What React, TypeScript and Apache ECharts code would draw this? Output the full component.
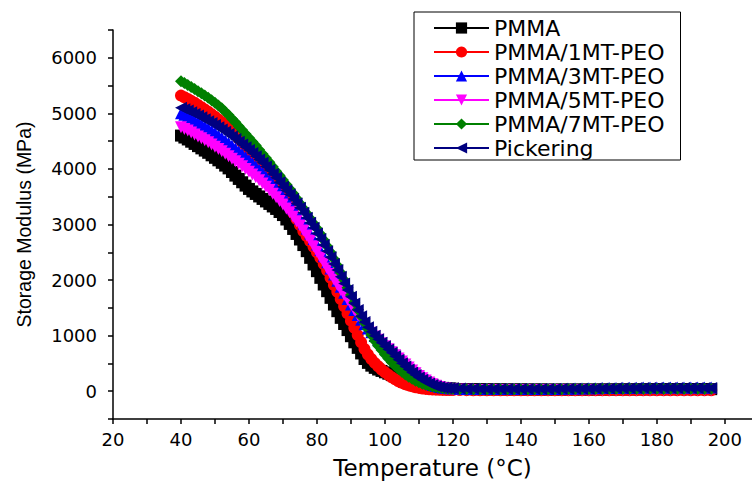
import React, { useEffect, useRef } from "react";
import * as echarts from "echarts";

// Temperature (°C) of each reading
const TEMPS = [
  40, 41, 42, 43, 44, 45, 46, 47, 48, 49,
  50, 51, 52, 53, 54, 55, 56, 57, 58, 59,
  60, 61, 62, 63, 64, 65, 66, 67, 68, 69, 70,
  71, 72, 73, 74, 75, 76, 77, 78, 79, 80,
  81, 82, 83, 84, 85, 86, 87, 88, 89, 90,
  91, 92, 93, 94, 95, 96, 97, 98, 99, 100,
  101, 102, 103, 104, 105, 106, 107, 108, 109, 110,
  111, 112, 113, 114, 115, 116, 117, 118, 119,
  120, 122, 124, 126, 128, 130, 132, 134, 136, 138,
  140, 142, 144, 146, 148, 150, 152, 154, 156, 158,
  160, 162, 164, 166, 168, 170, 172, 174, 176, 178,
  180, 182, 184, 186, 188, 190, 192, 194, 196,
];

// Storage modulus (MPa)
const PMMA = [
  4600, 4565, 4530, 4490, 4450, 4410, 4370, 4330, 4290, 4245,
  4200, 4155, 4110, 4060, 4010, 3945, 3880, 3820, 3760, 3700,
  3640, 3595, 3550, 3505, 3460, 3415, 3370, 3325, 3280, 3225, 3170,
  3090, 3010, 2920, 2830, 2730, 2630, 2520, 2400, 2280, 2160,
  2040, 1920, 1800, 1680, 1560, 1440, 1320, 1210, 1100, 990,
  880, 780, 680, 580, 510, 460, 420, 390, 365, 340,
  315, 290, 270, 250, 230, 210, 190, 170, 150, 135,
  120, 105, 92, 80, 72, 65, 60, 55, 50,
  45, 40, 38, 36, 35, 34, 33, 33, 32, 32,
  32, 31, 31, 31, 30, 30, 30, 30, 30, 30,
  30, 30, 31, 31, 32, 32, 33, 33, 34, 34,
  35, 35, 35, 36, 36, 36, 37, 37, 37,
];
const PMMA_1MT = [
  5320, 5290, 5260, 5225, 5190, 5150, 5110, 5070, 5030, 4985,
  4940, 4890, 4840, 4785, 4730, 4670, 4610, 4545, 4480, 4415,
  4350, 4280, 4210, 4135, 4060, 3980, 3900, 3810, 3720, 3620, 3520,
  3420, 3320, 3210, 3100, 2990, 2880, 2790, 2700, 2600, 2500,
  2400, 2290, 2170, 2040, 1910, 1790, 1660, 1530, 1400, 1270,
  1140, 1010, 880, 760, 660, 580, 510, 450, 390, 340,
  295, 250, 215, 180, 150, 125, 105, 88, 72, 60,
  50, 42, 36, 32, 28, 26, 24, 23, 22,
  21, 20, 19, 18, 18, 18, 18, 18, 18, 18,
  18, 18, 18, 18, 18, 18, 18, 18, 18, 18,
  18, 18, 18, 18, 18, 18, 18, 18, 18, 18,
  18, 18, 18, 18, 18, 18, 18, 18, 18,
];
const PMMA_3MT = [
  5000, 4975, 4950, 4915, 4880, 4845, 4810, 4770, 4730, 4690,
  4650, 4605, 4560, 4515, 4470, 4420, 4370, 4320, 4270, 4215,
  4160, 4105, 4050, 3990, 3930, 3865, 3800, 3730, 3660, 3585, 3510,
  3440, 3360, 3280, 3200, 3110, 3020, 2930, 2840, 2740, 2640,
  2540, 2430, 2320, 2210, 2100, 1990, 1880, 1770, 1660, 1560,
  1460, 1370, 1285, 1205, 1130, 1060, 995, 930, 870, 810,
  750, 690, 630, 570, 512, 455, 400, 348, 300, 255,
  213, 175, 142, 114, 92, 76, 66, 59, 55,
  52, 45, 42, 40, 40, 40, 40, 40, 40, 40,
  40, 40, 40, 40, 41, 42, 44, 46, 48, 50,
  52, 54, 56, 58, 60, 62, 63, 64, 65, 65,
  66, 66, 66, 67, 67, 67, 67, 67, 67,
];
const PMMA_5MT = [
  4750, 4720, 4690, 4655, 4620, 4585, 4550, 4515, 4480, 4440,
  4400, 4360, 4320, 4275, 4230, 4185, 4140, 4095, 4050, 4000,
  3950, 3900, 3850, 3795, 3740, 3680, 3620, 3555, 3490, 3425, 3360,
  3290, 3220, 3140, 3060, 2980, 2890, 2800, 2710, 2610, 2510,
  2410, 2310, 2210, 2110, 2010, 1910, 1820, 1730, 1645, 1560,
  1460, 1370, 1280, 1200, 1120, 1050, 985, 925, 865, 810,
  755, 700, 645, 590, 535, 480, 425, 372, 322, 275,
  232, 192, 156, 125, 98, 76, 60, 48, 38,
  30, 27, 25, 24, 23, 23, 22, 22, 22, 22,
  22, 22, 22, 22, 22, 22, 22, 22, 22, 22,
  22, 22, 22, 22, 22, 22, 22, 22, 22, 22,
  22, 22, 22, 22, 22, 22, 22, 22, 22,
];
const PMMA_7MT = [
  5580, 5545, 5510, 5475, 5440, 5400, 5360, 5320, 5280, 5235,
  5190, 5140, 5090, 5030, 4970, 4905, 4840, 4770, 4700, 4630,
  4560, 4490, 4420, 4345, 4270, 4195, 4120, 4040, 3960, 3880, 3800,
  3720, 3640, 3560, 3470, 3380, 3290, 3200, 3110, 3020, 2930,
  2830, 2720, 2610, 2500, 2380, 2260, 2130, 2000, 1860, 1730,
  1600, 1470, 1350, 1230, 1120, 1010, 910, 820, 740, 660,
  590, 520, 460, 400, 350, 300, 260, 225, 190, 160,
  135, 115, 97, 83, 71, 61, 53, 47, 43,
  40, 36, 34, 33, 32, 32, 32, 32, 32, 32,
  32, 32, 32, 32, 32, 33, 33, 34, 35, 36,
  37, 38, 39, 40, 40, 40, 40, 40, 40, 40,
  40, 40, 40, 40, 40, 40, 40, 40, 40,
];
const PICKERING = [
  5100, 5075, 5050, 5020, 4990, 4960, 4930, 4895, 4860, 4825,
  4790, 4750, 4710, 4670, 4630, 4585, 4540, 4490, 4440, 4390,
  4340, 4285, 4230, 4170, 4110, 4045, 3980, 3910, 3840, 3760, 3680,
  3610, 3540, 3460, 3380, 3300, 3210, 3120, 3030, 2940, 2840,
  2740, 2630, 2520, 2410, 2290, 2180, 2060, 1940, 1820, 1700,
  1580, 1460, 1350, 1245, 1150, 1070, 1000, 935, 870, 810,
  750, 690, 630, 565, 505, 445, 390, 338, 290, 246,
  206, 170, 140, 112, 90, 74, 64, 57, 54,
  52, 48, 45, 43, 42, 42, 42, 42, 42, 42,
  42, 42, 42, 42, 42, 42, 43, 43, 44, 45,
  46, 47, 48, 50, 52, 54, 55, 56, 57, 58,
  58, 59, 59, 60, 60, 60, 60, 60, 60,
];

const SERIES_NAMES = [
  "PMMA",
  "PMMA/1MT-PEO",
  "PMMA/3MT-PEO",
  "PMMA/5MT-PEO",
  "PMMA/7MT-PEO",
  "Pickering",
];

const X_LABELS = [20, 40, 60, 80, 100, 120, 140, 160, 180, 200];
const X_TICKS = [
  20, 30, 40, 50, 60, 70, 80, 90, 100, 110,
  120, 130, 140, 150, 160, 170, 180, 190, 200,
];
const Y_LABELS = [0, 1000, 2000, 3000, 4000, 5000, 6000];

export default function App() {
  const ref = useRef<HTMLDivElement>(null);

  useEffect(() => {
    if (!ref.current) return;
    const chart = echarts.init(ref.current, null, { renderer: "svg" });

    const values = [PMMA, PMMA_1MT, PMMA_3MT, PMMA_5MT, PMMA_7MT, PICKERING];
    const colors = ["#000000", "#ff0000", "#0000ff", "#ff00ff", "#008000", "#000080"];
    const symbols = ["rect", "circle", "triangle", "triangle", "diamond", "triangle"];
    const rotations = [0, 0, 0, 180, 0, 90];

    chart.setOption({
      animation: false,
      backgroundColor: "#ffffff",
      grid: { left: 113, right: 0, top: 30, bottom: 62, containLabel: false },
      legend: {
        orient: "vertical",
        left: 414,
        top: 12,
        data: SERIES_NAMES,
        selectedMode: false,
        borderColor: "#000000",
        borderWidth: 1,
        padding: [5, 16, 1, 19],
        itemWidth: 55,
        itemHeight: 14,
        itemGap: 2,
        textStyle: {
          fontFamily: "DejaVu Sans",
          fontSize: 22,
          lineHeight: 22,
          color: "#000000",
        },
      },
      xAxis: {
        type: "value",
        min: 20,
        max: 208,
        interval: 10,
        name: "Temperature (°C)",
        nameLocation: "middle",
        nameGap: 37,
        nameTextStyle: { fontFamily: "DejaVu Sans", fontSize: 23, color: "#000000" },
        axisLine: { show: true, onZero: false, lineStyle: { color: "#000000", width: 1.5 } },
        axisTick: {
          show: true,
          inside: false,
          length: 5,
          customValues: X_TICKS,
          lineStyle: { color: "#000000", width: 1.5 },
        },
        axisLabel: {
          customValues: X_LABELS,
          margin: 11,
          fontFamily: "DejaVu Sans",
          fontSize: 18,
          color: "#000000",
          formatter: (v: number) => String(v),
        },
        splitLine: { show: false },
      },
      yAxis: {
        type: "value",
        min: -500,
        max: 6500,
        interval: 500,
        name: "Storage Modulus (MPa)",
        nameLocation: "middle",
        nameRotate: 90,
        nameGap: 79,
        nameTextStyle: { fontFamily: "Liberation Sans", fontSize: 19.5, color: "#000000" },
        axisLine: { show: true, onZero: false, lineStyle: { color: "#000000", width: 1.5 } },
        axisTick: { show: true, inside: false, length: 5, lineStyle: { color: "#000000", width: 1.5 } },
        axisLabel: {
          customValues: Y_LABELS,
          margin: 16,
          fontFamily: "DejaVu Sans",
          fontSize: 18,
          color: "#000000",
          formatter: (v: number) => String(v),
        },
        splitLine: { show: false },
      },
      series: SERIES_NAMES.map((name, k) => ({
        type: "line",
        name,
        data: TEMPS.map((t, i) => [t, values[k][i]]),
        symbol: symbols[k],
        symbolSize: 12,
        symbolRotate: rotations[k],
        showSymbol: true,
        showAllSymbol: true,
        silent: true,
        itemStyle: { color: colors[k] },
        lineStyle: { color: colors[k], width: 1 },
        emphasis: { disabled: true },
        z: 2 + k,
      })),
    });

    return () => chart.dispose();
  }, []);

  return (
    <div
      ref={ref}
      style={{ position: "absolute", left: 0, top: 0, width: 752, height: 484 }}
    />
  );
}
